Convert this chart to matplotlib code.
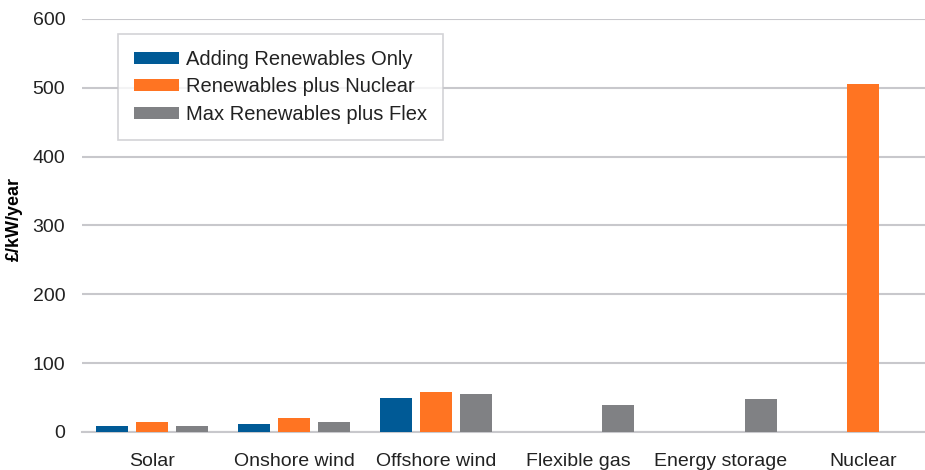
import matplotlib
matplotlib.use('Agg')
import matplotlib.pyplot as plt
import numpy as np

categories = ["Solar", "Onshore wind", "Offshore wind", "Flexible gas", "Energy storage", "Nuclear"]
renewables_only = [9, 12, 49, 0, 0, 0]
renewables_nuclear = [14.5, 20, 58, 0, 0, 505]
renewables_flex = [9, 14.5, 55, 39, 48, 0]
series_names = ["Adding Renewables Only", "Renewables plus Nuclear", "Max Renewables plus Flex"]
colors = ["#005A96", "#FF7422", "#808184"]

plt.rcParams['font.family'] = ['Liberation Sans', 'DejaVu Sans']

fig = plt.figure(figsize=(9.25, 4.7), dpi=100)
ax = fig.add_axes([0.0886, 0.081, 0.9114, 0.879])

x = np.arange(len(categories))
w = 0.225
step = 0.28
for i, (vals, name, c) in enumerate(zip([renewables_only, renewables_nuclear, renewables_flex], series_names, colors)):
    ax.bar(x + (i - 1) * step, vals, width=w, color=c, label=name, zorder=3)

ax.set_ylim(0, 600)
ax.set_xlim(-0.49, 5.435)
ax.set_yticks(range(0, 601, 100))
ax.set_xticks(x)
ax.set_xticklabels(categories)
ax.grid(axis='y', color='#c8c8cc', linewidth=1.5, zorder=0)
for s in ['top', 'right', 'left']:
    ax.spines[s].set_visible(False)
ax.spines['bottom'].set_color('#c8c8cc')
ax.spines['bottom'].set_linewidth(1.5)
ax.tick_params(axis='both', length=0, labelsize=14, colors='#222222')
ax.tick_params(axis='x', pad=15)
ax.tick_params(axis='y', pad=12)
ax.set_ylabel("£/kW/year", fontsize=13, fontweight='bold')
ax.yaxis.set_label_coords(-0.07, 0.515)

leg = ax.legend(loc='upper left', bbox_to_anchor=(0.043, 0.964), borderaxespad=0, fontsize=14.5,
                frameon=True, fancybox=False, edgecolor='#c8c8cc',
                handlelength=2.2, handleheight=0.55, borderpad=0.8, labelspacing=0.42,
                handletextpad=0.35)
leg.get_frame().set_linewidth(1.2)
for t in leg.get_texts():
    t.set_color('#222222')

fig.savefig("out.png", dpi=100)
